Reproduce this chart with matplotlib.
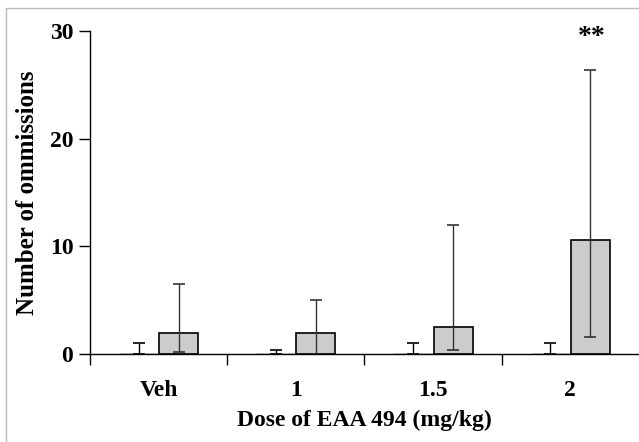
import matplotlib
matplotlib.use("Agg")
import matplotlib.pyplot as plt
import numpy as np
from matplotlib.patches import Rectangle

# data
doses = ['Veh', '1', '1.5', '2']
ctrl_mean = [0, 0, 0, 0]
ctrl_upper = [1.0, 0.4, 1.0, 1.0]
drug_mean = [2.0, 2.0, 2.5, 10.6]
drug_lower = [0.2, 0.0, 0.4, 1.6]
drug_upper = [6.5, 5.0, 12.0, 26.4]

plt.rcParams['font.family'] = ['Liberation Serif', 'DejaVu Serif']
plt.rcParams['font.weight'] = 'bold'

fig = plt.figure(figsize=(6.39, 4.42), dpi=100)
ax = fig.add_axes([0.1408, 0.199, 0.859, 0.731])

x = np.arange(len(doses))
w = 0.285
off = 0.146

ctrl_err = [np.zeros(4), np.array(ctrl_upper) - np.array(ctrl_mean)]
drug_err = [np.array(drug_mean) - np.array(drug_lower),
            np.array(drug_upper) - np.array(drug_mean)]

ax.bar(x - off, ctrl_mean, w, color='white', edgecolor='black', lw=1,
       yerr=ctrl_err, capsize=4.5, error_kw=dict(elinewidth=1, capthick=1.2, ecolor='black'))
ax.bar(x + off, drug_mean, w, color='#cccccc', edgecolor='black', lw=1.2,
       yerr=drug_err, capsize=4.5, error_kw=dict(elinewidth=1, capthick=1.2, ecolor='#333333'))

ax.text(x[3] + off + 0.01, 29.4, '**', ha='center', va='center', fontsize=20,
        clip_on=False)

ax.set_xlim(-0.5, 3.5)
ax.set_ylim(0, 30)
ax.set_yticks([0, 10, 20, 30])
ax.set_xticks([-0.5, 0.5, 1.5, 2.5])
ax.set_xticklabels([])
ax.set_xticks(x, minor=True)
ax.set_xticklabels(doses, minor=True)
ax.tick_params(axis='x', which='major', direction='out', length=8, width=1)
ax.tick_params(axis='x', which='minor', length=0, pad=19, labelsize=17)
ax.tick_params(axis='y', direction='out', length=8, width=1, labelsize=17, pad=4)
for s in ['top', 'right']:
    ax.spines[s].set_visible(False)
ax.spines['left'].set_linewidth(1)
ax.spines['bottom'].set_linewidth(1)

ax.set_ylabel('Number of ommissions', fontsize=18, fontweight='bold', labelpad=8)
ax.set_xlabel('Dose of EAA 494 (mg/kg)', fontsize=17, fontweight='bold', labelpad=6)

# faint scan border
fig.patches.append(Rectangle((6 / 639, -0.01), 1.0, 1 - 8 / 442 + 0.01,
                             transform=fig.transFigure, fill=False,
                             edgecolor='#bbbbbb', lw=1))

fig.savefig('out.png', dpi=100)
